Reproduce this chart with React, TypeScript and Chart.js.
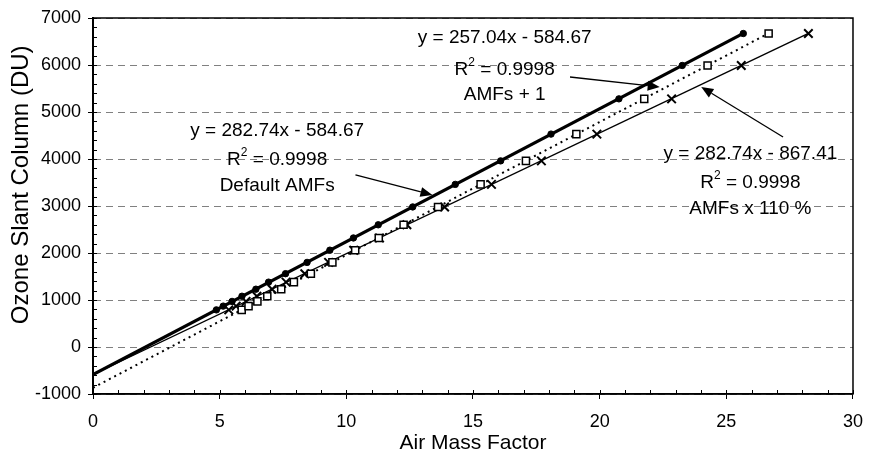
import React, { useEffect, useRef } from "react";
import { Chart, registerables } from "chart.js";

Chart.register(...registerables);

// ---- data ----
const defaultAmfX = [4.87, 5.14, 5.49, 5.88, 6.43, 6.93, 7.6, 8.45, 9.35, 10.28, 11.26, 12.62, 14.3, 16.09, 18.08, 20.76, 23.26, 25.67];
const plusOneAmfX = [5.87, 6.14, 6.49, 6.88, 7.43, 7.93, 8.6, 9.45, 10.35, 11.28, 12.26, 13.62, 15.3, 17.09, 19.08, 21.76, 24.26, 26.67];
const times110AmfX = [5.36, 5.65, 6.04, 6.47, 7.07, 7.62, 8.36, 9.3, 10.29, 11.31, 12.39, 13.88, 15.73, 17.7, 19.89, 22.84, 25.59, 28.24];
const slantColumnDU = [790, 870, 970, 1080, 1230, 1380, 1560, 1800, 2060, 2320, 2600, 2980, 3460, 3960, 4530, 5280, 5990, 6670];

// trend line coefficients as printed in the chart [slope, intercept]
const fitDefault = [282.74, -584.67];
const fitPlusOne = [282.74, -867.41];
const fitTimes110 = [257.04, -584.67];

const xTicks = { min: 0, max: 30, step: 5, minorStep: 1 };
const yTicks = { min: -1000, max: 7000, step: 1000, minorStep: 200 };

const xTitle = "Air Mass Factor";
const yTitle = "Ozone Slant Column (DU)";
const equationLabels = ["y = 257.04x - 584.67", "y = 282.74x - 584.67", "y = 282.74x - 867.41"];
const r2Value = "0.9998";
const seriesNames = ["AMFs + 1", "Default AMFs", "AMFs x 110 %"];

// annotation anchors in data units: [centerX, yLine1, yLine2, yLine3]
const labelAnchors = [
  [16.25, 6574, 5894, 5362],
  [7.27, 4596, 3979, 3426],
  [25.95, 4106, 3489, 2936],
];
// arrows in data units: [fromX, fromY, toX, toY]
const arrowAnchors = [
  [18.83, 5745, 22.37, 5532],
  [10.36, 3660, 13.4, 3234],
  [27.24, 4468, 24.01, 5532],
];
// y-axis title centre (in y data units)
const yTitleCenter = 3450;

const FONT = "'Liberation Sans', Arial, Helvetica, sans-serif";

function pts(xs: number[], ys: number[]) {
  return xs.map((x, i) => ({ x, y: ys[i] }));
}
function trend(fit: number[], xs: number[]) {
  const xmax = Math.max(...xs);
  return [
    { x: 0, y: fit[1] },
    { x: xmax, y: fit[0] * xmax + fit[1] },
  ];
}

const overlayPlugin = {
  id: "overlay",
  afterDraw(chart: any) {
    const ctx = chart.ctx as CanvasRenderingContext2D;
    const { left, right, top, bottom } = chart.chartArea;
    const xs = chart.scales.x;
    const ys = chart.scales.y;
    ctx.save();
    // frame
    ctx.strokeStyle = "#000";
    ctx.lineWidth = 1.5;
    ctx.setLineDash([]);
    ctx.strokeRect(left, top, right - left, bottom - top);
    // minor ticks (inside)
    ctx.lineWidth = 1;
    ctx.beginPath();
    for (let v = yTicks.min; v <= yTicks.max; v += yTicks.minorStep) {
      const p = Math.round(ys.getPixelForValue(v)) + 0.5;
      ctx.moveTo(left, p);
      ctx.lineTo(left + 4, p);
    }
    for (let v = xTicks.min; v <= xTicks.max; v += xTicks.minorStep) {
      const p = Math.round(xs.getPixelForValue(v)) + 0.5;
      ctx.moveTo(p, bottom);
      ctx.lineTo(p, bottom - 4);
    }
    ctx.stroke();

    ctx.fillStyle = "#000";
    // y axis title
    ctx.save();
    ctx.translate(21, ys.getPixelForValue(yTitleCenter));
    ctx.rotate(-Math.PI / 2);
    ctx.font = `24px ${FONT}`;
    ctx.textAlign = "center";
    ctx.textBaseline = "middle";
    ctx.fillText(yTitle, 0, 0);
    ctx.restore();

    // labels
    ctx.textBaseline = "middle";
    const big = `19px ${FONT}`;
    const small = `12px ${FONT}`;
    labelAnchors.forEach((a, i) => {
      const cx = xs.getPixelForValue(a[0]);
      ctx.font = big;
      ctx.textAlign = "center";
      ctx.fillText(equationLabels[i], cx, ys.getPixelForValue(a[1]));
      // R^2 line
      const y2 = ys.getPixelForValue(a[2]);
      ctx.textAlign = "left";
      ctx.font = big;
      const wR = ctx.measureText("R").width;
      const wRest = ctx.measureText(" = " + r2Value).width;
      ctx.font = small;
      const wSup = ctx.measureText("2").width;
      const x0 = cx - (wR + wSup + wRest) / 2;
      ctx.font = big;
      ctx.fillText("R", x0, y2);
      ctx.font = small;
      ctx.fillText("2", x0 + wR, y2 - 7);
      ctx.font = big;
      ctx.fillText(" = " + r2Value, x0 + wR + wSup, y2);
      ctx.textAlign = "center";
      ctx.fillText(seriesNames[i], cx, ys.getPixelForValue(a[3]));
    });

    // arrows
    ctx.strokeStyle = "#000";
    ctx.lineWidth = 1.3;
    arrowAnchors.forEach((a) => {
      const x1 = xs.getPixelForValue(a[0]);
      const y1 = ys.getPixelForValue(a[1]);
      const x2 = xs.getPixelForValue(a[2]);
      const y2 = ys.getPixelForValue(a[3]);
      const ang = Math.atan2(y2 - y1, x2 - x1);
      const len = 12;
      const hw = 5;
      const bx = x2 - len * Math.cos(ang);
      const by = y2 - len * Math.sin(ang);
      ctx.beginPath();
      ctx.moveTo(x1, y1);
      ctx.lineTo(bx, by);
      ctx.stroke();
      ctx.beginPath();
      ctx.moveTo(x2, y2);
      ctx.lineTo(bx + hw * Math.sin(ang), by - hw * Math.cos(ang));
      ctx.lineTo(bx - hw * Math.sin(ang), by + hw * Math.cos(ang));
      ctx.closePath();
      ctx.fill();
    });
    ctx.restore();
  },
};

export default function App() {
  const ref = useRef<HTMLCanvasElement>(null);
  useEffect(() => {
    if (!ref.current) return;
    const chart = new Chart(ref.current, {
      type: "scatter",
      data: {
        datasets: [
          {
            label: "Default AMFs",
            data: pts(defaultAmfX, slantColumnDU),
            pointStyle: "circle",
            pointRadius: 3.2,
            backgroundColor: "#000",
            borderColor: "#000",
            borderWidth: 1,
            showLine: false,
          },
          {
            label: "AMFs + 1",
            data: pts(plusOneAmfX, slantColumnDU),
            pointStyle: "rect",
            pointRadius: 5,
            backgroundColor: "#fff",
            borderColor: "#000",
            borderWidth: 1.5,
            showLine: false,
          },
          {
            label: "AMFs x 110 %",
            data: pts(times110AmfX, slantColumnDU),
            pointStyle: "crossRot",
            pointRadius: 6,
            borderColor: "#000",
            borderWidth: 2,
            showLine: false,
          },
          {
            label: "fit default",
            data: trend(fitDefault, defaultAmfX),
            showLine: true,
            borderColor: "#000",
            borderWidth: 3.2,
            pointRadius: 0,
          },
          {
            label: "fit +1",
            data: trend(fitPlusOne, plusOneAmfX),
            showLine: true,
            borderColor: "#000",
            borderWidth: 2,
            borderDash: [2, 4],
            pointRadius: 0,
          },
          {
            label: "fit 110",
            data: trend(fitTimes110, times110AmfX),
            showLine: true,
            borderColor: "#000",
            borderWidth: 1.4,
            pointRadius: 0,
          },
        ],
      },
      options: {
        animation: false,
        responsive: false,
        devicePixelRatio: 1,
        layout: { padding: { left: 0, right: 11, top: 18, bottom: 0 } },
        plugins: { legend: { display: false }, tooltip: { enabled: false } },
        scales: {
          x: {
            type: "linear",
            min: xTicks.min,
            max: xTicks.max,
            afterFit: (s: any) => {
              s.height = 64;
            },
            ticks: {
              stepSize: xTicks.step,
              color: "#000",
              font: { family: FONT, size: 18 },
              padding: 12,
              callback: (v: any) => String(v),
            },
            grid: { drawOnChartArea: false, drawTicks: true, tickLength: 5, tickColor: "#000", tickWidth: 1 },
            border: { color: "#000", width: 1.5 },
            title: {
              display: true,
              text: xTitle,
              color: "#000",
              font: { family: FONT, size: 21 },
              padding: { top: 0, bottom: 2 },
            },
          },
          y: {
            type: "linear",
            min: yTicks.min,
            max: yTicks.max,
            afterFit: (s: any) => {
              s.width = 93;
            },
            ticks: {
              stepSize: yTicks.step,
              color: "#000",
              font: { family: FONT, size: 18 },
              padding: 7,
              callback: (v: any) => String(v),
            },
            grid: {
              color: "#808080",
              lineWidth: 1,
              tickColor: "#000",
              tickLength: 5,
              tickBorderDash: [],
            },
            border: { color: "#000", width: 2, dash: [7, 5] },
            title: { display: false, text: yTitle },
          },
        },
      },
      plugins: [overlayPlugin],
    } as any);
    return () => chart.destroy();
  }, []);
  return (
    <div style={{ position: "absolute", left: 0, top: 0, width: 875, height: 458, background: "#fff" }}>
      <canvas ref={ref} width={875} height={458} style={{ display: "block" }} />
    </div>
  );
}
